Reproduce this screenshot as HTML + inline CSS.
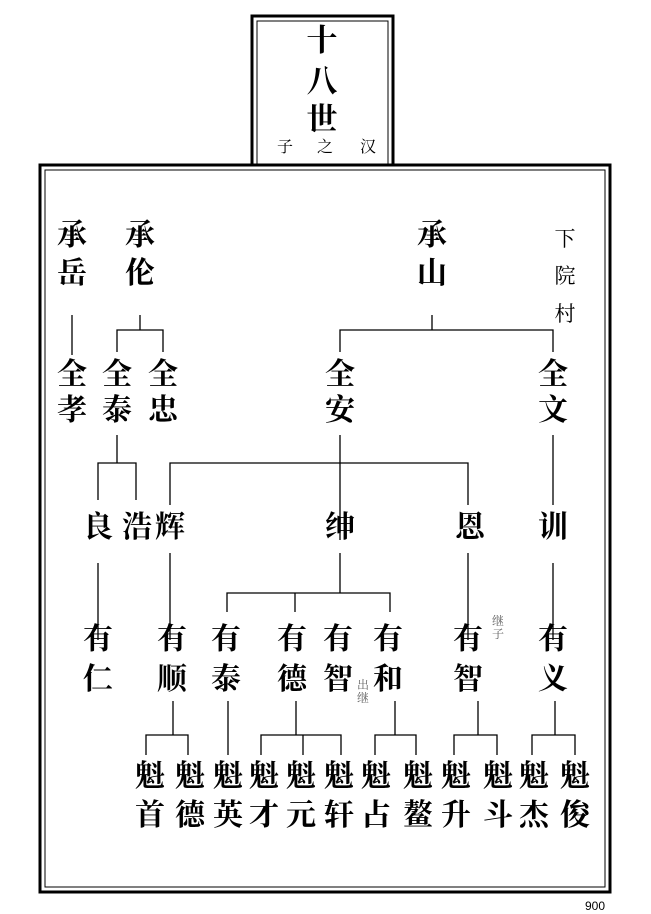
<!DOCTYPE html>
<html><head><meta charset="utf-8"><style>
html,body{margin:0;padding:0;background:#fff;}
svg{display:block;}
text{font-family:"Liberation Serif","Noto Serif CJK SC",serif;}
.b{font-size:30px;font-weight:bold;fill:#000;text-anchor:middle;}
.s{font-size:21px;fill:#000;text-anchor:middle;}
.g{font-size:12px;fill:#666;text-anchor:middle;}
</style></head><body>
<svg width="651" height="914" viewBox="0 0 651 914" xmlns="http://www.w3.org/2000/svg">
<g fill="none" stroke="#000">
<rect x="40" y="165" width="570" height="727" stroke-width="3"/>
<rect x="45" y="170" width="560" height="717" stroke-width="1"/>
<rect x="252" y="16" width="141" height="149" stroke-width="3" fill="#fff"/>
<rect x="257" y="21" width="131" height="144" stroke-width="1"/>
</g>
<text x="322" y="51" class="b" style="font-size:31px">十</text>
<text x="322" y="92" class="b" style="font-size:31px">八</text>
<text x="322" y="130" class="b" style="font-size:31px">世</text>
<text x="285" y="152" class="s" style="font-size:16px">子</text>
<text x="325" y="152" class="s" style="font-size:16px">之</text>
<text x="368" y="152" class="s" style="font-size:16px">汉</text>

<g stroke="#000" stroke-width="1.3" fill="none">
<path d="M72 315V355"/>
<path d="M140 315V330M117 352V330H163V352"/>
<path d="M432 315V330M340 352V330H553V352"/>
<path d="M117 435V463M98 500V463H136V500"/>
<path d="M340 435V540M170 505V463H468V505"/>
<path d="M553 435V505"/>
<path d="M98 563V640M170 553V640M468 553V640M553 563V640"/>
<path d="M340 553V593M227 612V593H390V612M295 593V612"/>
<path d="M173 701V735M146 755V735H188V755"/>
<path d="M228 701V755"/>
<path d="M296 701V735M261 755V735H341V755M303 735V755"/>
<path d="M395 701V735M375 755V735H416V755"/>
<path d="M478 701V735M454 755V735H497V755"/>
<path d="M555 701V735M532 755V735H575V755"/>
</g>

<text x="72" y="245" class="b">承</text><text x="72" y="283" class="b">岳</text>
<text x="140" y="245" class="b">承</text><text x="140" y="283" class="b">伦</text>
<text x="432" y="245" class="b">承</text><text x="432" y="283" class="b">山</text>
<text x="565" y="246" class="s">下</text><text x="565" y="283" class="s">院</text><text x="565" y="321" class="s">村</text>

<text x="72" y="384" class="b">全</text><text x="72" y="420" class="b">孝</text>
<text x="117" y="384" class="b">全</text><text x="117" y="420" class="b">泰</text>
<text x="163" y="384" class="b">全</text><text x="163" y="420" class="b">忠</text>
<text x="340" y="384" class="b">全</text><text x="340" y="420" class="b">安</text>
<text x="553" y="384" class="b">全</text><text x="553" y="420" class="b">文</text>

<text x="98" y="537" class="b">良</text>
<text x="137" y="537" class="b">浩</text>
<text x="170" y="537" class="b">辉</text>
<text x="340" y="537" class="b">绅</text>
<text x="470" y="537" class="b">恩</text>
<text x="553" y="537" class="b">训</text>

<text x="98" y="649" class="b">有</text><text x="98" y="689" class="b">仁</text>
<text x="172" y="649" class="b">有</text><text x="172" y="689" class="b">顺</text>
<text x="226" y="649" class="b">有</text><text x="226" y="689" class="b">泰</text>
<text x="292" y="649" class="b">有</text><text x="292" y="689" class="b">德</text>
<text x="338" y="649" class="b">有</text><text x="338" y="689" class="b">智</text>
<text x="388" y="649" class="b">有</text><text x="388" y="689" class="b">和</text>
<text x="468" y="649" class="b">有</text><text x="468" y="689" class="b">智</text>
<text x="553" y="649" class="b">有</text><text x="553" y="689" class="b">义</text>
<text x="498" y="625" class="g">继</text><text x="498" y="638" class="g">子</text>
<text x="363" y="689" class="g">出</text><text x="363" y="702" class="g">继</text>

<text x="150" y="786" class="b">魁</text><text x="150" y="825" class="b">首</text>
<text x="190" y="786" class="b">魁</text><text x="190" y="825" class="b">德</text>
<text x="228" y="786" class="b">魁</text><text x="228" y="825" class="b">英</text>
<text x="264" y="786" class="b">魁</text><text x="264" y="825" class="b">才</text>
<text x="301" y="786" class="b">魁</text><text x="301" y="825" class="b">元</text>
<text x="339" y="786" class="b">魁</text><text x="339" y="825" class="b">轩</text>
<text x="376" y="786" class="b">魁</text><text x="376" y="825" class="b">占</text>
<text x="418" y="786" class="b">魁</text><text x="418" y="825" class="b">鳌</text>
<text x="456" y="786" class="b">魁</text><text x="456" y="825" class="b">升</text>
<text x="498" y="786" class="b">魁</text><text x="498" y="825" class="b">斗</text>
<text x="534" y="786" class="b">魁</text><text x="534" y="825" class="b">杰</text>
<text x="575" y="786" class="b">魁</text><text x="575" y="825" class="b">俊</text>
<text x="595" y="910" style="font-family:'Liberation Sans',sans-serif;font-size:12px;text-anchor:middle">900</text>
</svg>
</body></html>
